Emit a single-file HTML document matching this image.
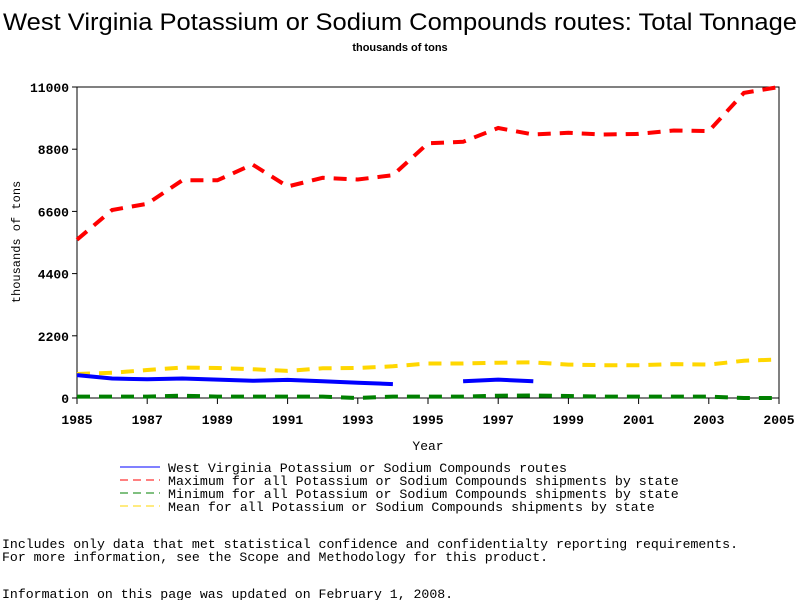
<!DOCTYPE html>
<html><head><meta charset="utf-8"><style>
body{margin:0;background:#fff;width:800px;height:600px;overflow:hidden}
svg text{font-family:"Liberation Mono",monospace}
</style></head><body>
<svg width="800" height="600" xmlns="http://www.w3.org/2000/svg">
<text x="3" y="30" font-size="24" textLength="794" lengthAdjust="spacingAndGlyphs" style="font-family:'Liberation Sans',sans-serif">West Virginia Potassium or Sodium Compounds routes: Total Tonnage</text>
<text x="400" y="51" text-anchor="middle" font-size="11" font-weight="bold" style="font-family:'Liberation Sans',sans-serif">thousands of tons</text>
<g id="plot"></g>
<text x="20" y="242" transform="rotate(-90 20 242)" text-anchor="middle" font-size="12">thousands of tons</text>
<text x="428" y="450" text-anchor="middle" font-size="13">Year</text>
<g font-size="13.3">
<g><line x1="120" y1="467" x2="160" y2="467" stroke="#0000ff" stroke-width="1"/><text x="168" y="472">West Virginia Potassium or Sodium Compounds routes</text></g>
<g><line x1="120" y1="480" x2="160" y2="480" stroke="#ff0000" stroke-dasharray="8,5"/><text x="168" y="485">Maximum for all Potassium or Sodium Compounds shipments by state</text></g>
<g><line x1="120" y1="493" x2="160" y2="493" stroke="#008000" stroke-dasharray="8,5"/><text x="168" y="498">Minimum for all Potassium or Sodium Compounds shipments by state</text></g>
<g><line x1="120" y1="506" x2="160" y2="506" stroke="#ffd700" stroke-dasharray="8,5"/><text x="168" y="511">Mean for all Potassium or Sodium Compounds shipments by state</text></g>
</g>
<g font-size="13.2">
<text x="2" y="548">Includes only data that met statistical confidence and confidentialty reporting requirements.</text>
<text x="2" y="561">For more information, see the Scope and Methodology for this product.</text>
<text x="2" y="598">Information on this page was updated on February 1, 2008.</text>
</g>
</svg>
<script>
const years=[1985,1986,1987,1988,1989,1990,1991,1992,1993,1994,1995,1996,1997,1998,1999,2000,2001,2002,2003,2004,2005];
const wvValues=[810,690,660,690,650,610,640,590,540,490,null,590,650,590,null,null,null,null,null,null,null];
const maxValues=[5600,6650,6870,7700,7700,8260,7480,7790,7730,7880,9010,9060,9550,9320,9380,9320,9340,9460,9440,10790,11000];
const minValues=[50,50,50,80,50,50,50,50,0,50,50,50,80,90,70,50,50,50,50,0,0];
const meanValues=[850,890,990,1080,1060,1020,960,1050,1060,1120,1220,1220,1250,1260,1180,1160,1160,1200,1180,1320,1360];
const yTicks=[0,2200,4400,6600,8800,11000];
const xTickLabels=[1985,1987,1989,1991,1993,1995,1997,1999,2001,2003,2005];
const X0=77,X1=779,Y0=398,Y1=87;
const xs=y=>X0+(y-1985)/(2005-1985)*(X1-X0);
const ys=v=>Y0-v/11000*(Y0-Y1);
const NS="http://www.w3.org/2000/svg";
const g=document.getElementById('plot');
function mk(t,a){const e=document.createElementNS(NS,t);for(const k in a)e.setAttribute(k,a[k]);g.appendChild(e);return e;}
const frame=mk('rect',{x:X0,y:Y1,width:X1-X0,height:Y0-Y1,fill:'none',stroke:'#000','stroke-width':1});


yTicks.forEach(v=>{
  const l=mk('line',{x1:X0-5,x2:X0,y1:ys(v),y2:ys(v),stroke:'#000'});
  
  
  const t=mk('text',{x:X0-8,y:ys(v)+5,'text-anchor':'end','font-size':13,'font-weight':'bold'});
  t.textContent=v;
  
  
});
xTickLabels.forEach(y=>{
  const l=mk('line',{x1:xs(y),x2:xs(y),y1:Y0,y2:Y0+6,stroke:'#000'});
  
  
  const t=mk('text',{x:xs(y),y:Y0+26,'text-anchor':'middle','font-size':13,'font-weight':'bold'});
  t.textContent=y;
  
  
});
function series(vals,color,dash,name){
  let d='',pen=false;
  vals.forEach((v,i)=>{if(v==null){pen=false;return;}d+=(pen?'L':'M')+xs(years[i]).toFixed(1)+','+ys(v).toFixed(1);pen=true;});
  const p=mk('path',{d:d,fill:'none',stroke:color,'stroke-width':4,'stroke-dasharray':dash||'none'});
  
  
}
series(minValues,'#008000','13,9','min-line');
series(meanValues,'#ffd700','13,9','mean-line');
series(maxValues,'#ff0000','13,9','max-line');
series(wvValues,'#0000ff',null,'wv-line');
</script>
</body></html>
